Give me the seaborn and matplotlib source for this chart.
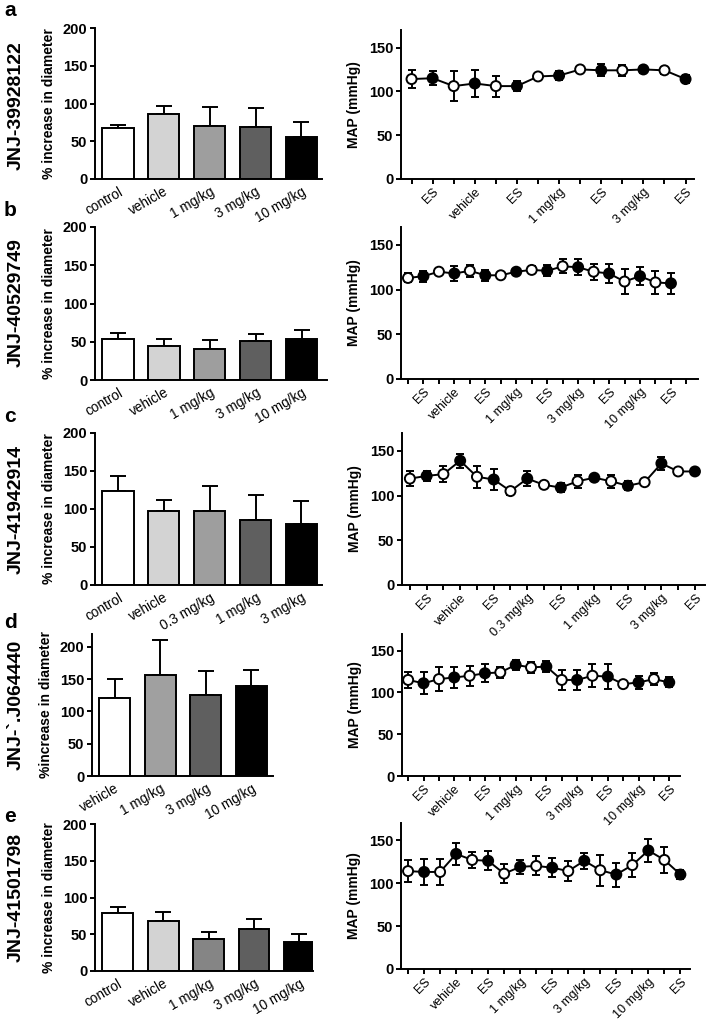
import numpy as np
import matplotlib
matplotlib.use("Agg")
import matplotlib.pyplot as plt
import seaborn as sns
import pandas as pd

# ---- bar data (% increase in diameter) ----
bar_a_labels = ["control", "vehicle", "1 mg/kg", "3 mg/kg", "10 mg/kg"]
bar_a_vals = [67, 86, 70, 69, 55]
bar_a_err = [5, 11, 25, 25, 21]

bar_b_labels = ["control", "vehicle", "1 mg/kg", "3 mg/kg", "10 mg/kg"]
bar_b_vals = [53, 45, 40, 51, 53]
bar_b_err = [9, 9, 12, 9, 12]

bar_c_labels = ["control", "vehicle", "0.3 mg/kg", "1 mg/kg", "3 mg/kg"]
bar_c_vals = [124, 97, 98, 86, 80]
bar_c_err = [20, 15, 32, 32, 30]

bar_d_labels = ["vehicle", "1 mg/kg", "3 mg/kg", "10 mg/kg"]
bar_d_vals = [121, 156, 125, 139]
bar_d_err = [29, 55, 38, 26]

bar_e_labels = ["control", "vehicle", "1 mg/kg", "3 mg/kg", "10 mg/kg"]
bar_e_vals = [79, 68, 44, 57, 40]
bar_e_err = [8, 12, 9, 14, 11]

# ---- MAP time courses (mmHg) ----
map_a = [114, 115, 106, 109, 106, 106, 117, 118, 125, 124, 124, 125, 124, 114]
map_a_err = [10, 8, 17, 15, 12, 6, 4, 5, 1, 7, 6, 4, 4, 5]
map_a_ticks = ["ES", "vehicle", "ES", "1 mg/kg", "ES", "3 mg/kg", "ES"]

map_b = [113, 115, 120, 118, 121, 116, 116, 120, 122, 121, 126, 125, 120, 118, 109, 115, 108, 107]
map_b_err = [5, 6, 3, 8, 7, 6, 3, 2, 4, 6, 8, 9, 9, 11, 14, 10, 13, 12]
map_b_ticks = ["ES", "vehicle", "ES", "1 mg/kg", "ES", "3 mg/kg", "ES", "10 mg/kg", "ES"]

map_c = [119, 122, 124, 139, 121, 118, 105, 119, 112, 109, 116, 120, 116, 111, 115, 136, 127, 127]
map_c_err = [8, 6, 9, 8, 12, 12, 4, 8, 3, 5, 7, 2, 7, 5, 2, 7, 1, 1]
map_c_ticks = ["ES", "vehicle", "ES", "0.3 mg/kg", "ES", "1 mg/kg", "ES", "3 mg/kg", "ES"]

map_d = [115, 111, 116, 118, 120, 123, 124, 133, 130, 131, 115, 115, 120, 119, 110, 112, 116, 112]
map_d_err = [10, 13, 14, 13, 12, 11, 7, 6, 7, 7, 12, 12, 14, 15, 4, 8, 7, 6]
map_d_ticks = ["ES", "vehicle", "ES", "1 mg/kg", "ES", "3 mg/kg", "ES", "10 mg/kg", "ES"]

map_e = [114, 113, 113, 134, 127, 126, 111, 119, 120, 118, 114, 126, 115, 110, 121, 138, 127, 110]
map_e_err = [13, 15, 15, 13, 9, 11, 11, 8, 11, 11, 12, 9, 18, 14, 14, 13, 15, 5]
map_e_ticks = ["ES", "vehicle", "ES", "1 mg/kg", "ES", "3 mg/kg", "ES", "10 mg/kg", "ES"]

compounds = ["JNJ-39928122", "JNJ-40529749", "JNJ-41942914", "JNJ-`.J064440", "JNJ-41501798"]

W, H = 709, 1019
sns.set_theme(style="ticks")
plt.rcParams["font.family"] = ["Liberation Sans", "DejaVu Sans"]
plt.rcParams.update({
    "text.color": "black", "axes.labelcolor": "black", "axes.edgecolor": "black",
    "xtick.color": "black", "ytick.color": "black",
    "axes.linewidth": 1.4, "xtick.major.width": 1.4, "ytick.major.width": 1.4,
    "xtick.major.size": 3.5, "ytick.major.size": 3.5,
})

fig = plt.figure(figsize=(W / 100, H / 100), dpi=100)


def px_axes(left, top, right, bottom):
    a = fig.add_axes([left / W, 1 - bottom / H, (right - left) / W, (bottom - top) / H])
    a.patch.set_alpha(0)  # let rotated labels of the row above show through
    return a


def bar_panel(ax, labels, vals, errs, colors, ymax, xmax, ylabel):
    df = pd.DataFrame({"group": labels, "value": vals})
    sns.barplot(data=df, x="group", y="value", hue="group", palette=colors,
                legend=False, width=0.68, edgecolor="black", linewidth=1.4,
                errorbar=None, ax=ax, zorder=2)
    x = np.arange(len(vals))
    ax.errorbar(x, vals, yerr=[np.zeros(len(vals)), errs], fmt="none",
                ecolor="black", elinewidth=1.4, capsize=5.5, capthick=1.4, zorder=1)
    ax.set_xlim(-0.5, xmax)
    ax.set_ylim(0, ymax)
    ax.set_yticks([0, 50, 100, 150, 200])
    ax.tick_params(axis="x", length=0, pad=4)
    ax.tick_params(axis="y", pad=2)
    ax.set_xticks(x)
    ax.set_xticklabels(labels, rotation=30, ha="right", va="top",
                       rotation_mode="anchor", fontsize=9.8)
    for t in ax.get_yticklabels():
        t.set_fontweight("bold")
        t.set_fontsize(10.5)
    ax.set_xlabel("")
    ax.set_ylabel(ylabel, fontsize=10, fontweight="bold", labelpad=5)
    sns.despine(ax=ax)


def map_panel(ax, vals, errs, ticklabels, xmin, xmax, nticks):
    x = np.arange(len(vals))
    sns.lineplot(x=x, y=vals, color="black", linewidth=1.4, ax=ax, zorder=2)
    ax.errorbar(x, vals, yerr=errs, fmt="none", ecolor="black",
                elinewidth=1.4, capsize=3.2, capthick=1.4, zorder=1)
    fills = ["white" if i % 2 == 0 else "black" for i in x]
    ax.scatter(x, vals, s=52, c=fills, edgecolors="black", linewidths=1.4, zorder=3)
    ax.set_xlim(xmin, xmax)
    ax.set_ylim(0, 170)
    ax.set_yticks([0, 50, 100, 150])
    ax.set_xticks(np.arange(nticks))
    lab = ["" for _ in range(nticks)]
    for i, t in enumerate(ticklabels):
        lab[2 * i + 1] = t
    ax.set_xticklabels(lab, rotation=45, ha="right", va="top",
                       rotation_mode="anchor", fontsize=9)
    ax.tick_params(axis="x", pad=1.5)
    ax.tick_params(axis="y", pad=2)
    for t in ax.get_yticklabels():
        t.set_fontweight("bold")
        t.set_fontsize(10.5)
    ax.set_ylabel("MAP (mmHg)", fontsize=10, fontweight="bold", labelpad=6)
    sns.despine(ax=ax)


col5 = ["white", "#d3d3d3", "#9e9e9e", "#5f5f5f", "black"]
col5e = ["white", "#d3d3d3", "#858585", "#5f5f5f", "black"]
col4 = ["white", "#a0a0a0", "#5f5f5f", "black"]

# left bar panels (pixel boxes)
ax = px_axes(95, 28, 322, 179)
bar_panel(ax, bar_a_labels, bar_a_vals, bar_a_err, col5, 200, 4.45, "% increase in diameter")
ax = px_axes(95, 227, 327, 380)
bar_panel(ax, bar_b_labels, bar_b_vals, bar_b_err, col5, 200, 4.55, "% increase in diameter")
ax = px_axes(95, 433, 322, 585)
bar_panel(ax, bar_c_labels, bar_c_vals, bar_c_err, col5, 200, 4.45, "% increase in diameter")
ax = px_axes(92, 634, 273, 776)
bar_panel(ax, bar_d_labels, bar_d_vals, bar_d_err, col4, 220, 3.48, "%increase in diameter")
ax = px_axes(95, 824, 313, 971)
bar_panel(ax, bar_e_labels, bar_e_vals, bar_e_err, col5e, 200, 4.3, "% increase in diameter")

# right MAP panels
ax = px_axes(401, 30, 694, 179)
map_panel(ax, map_a, map_a_err, map_a_ticks, -0.5, 13.4, 14)
ax = px_axes(401, 227, 698, 379)
map_panel(ax, map_b, map_b_err, map_b_ticks, -0.45, 18.75, 19)
ax = px_axes(402, 433, 705, 585)
map_panel(ax, map_c, map_c_err, map_c_ticks, -0.47, 17.6, 18)
ax = px_axes(402, 634, 680, 776)
map_panel(ax, map_d, map_d_err, map_d_ticks, -0.4, 17.7, 18)
ax = px_axes(401, 823, 690, 969)
map_panel(ax, map_e, map_e_err, map_e_ticks, -0.44, 17.6, 18)

# panel letters and compound names
letters = ["a", "b", "c", "d", "e"]
letter_y = [11, 210, 416, 623, 816]
name_y = [106, 303, 509, 705, 897]
for L, ly, name, ny in zip(letters, letter_y, compounds, name_y):
    fig.text(4 / W, 1 - ly / H, L, fontsize=15, fontweight="bold", va="center", ha="left")
    fig.text(16 / W, 1 - ny / H, name, fontsize=14, fontweight="bold", rotation=90,
             va="center", ha="center")

fig.savefig("out.png", dpi=100)
